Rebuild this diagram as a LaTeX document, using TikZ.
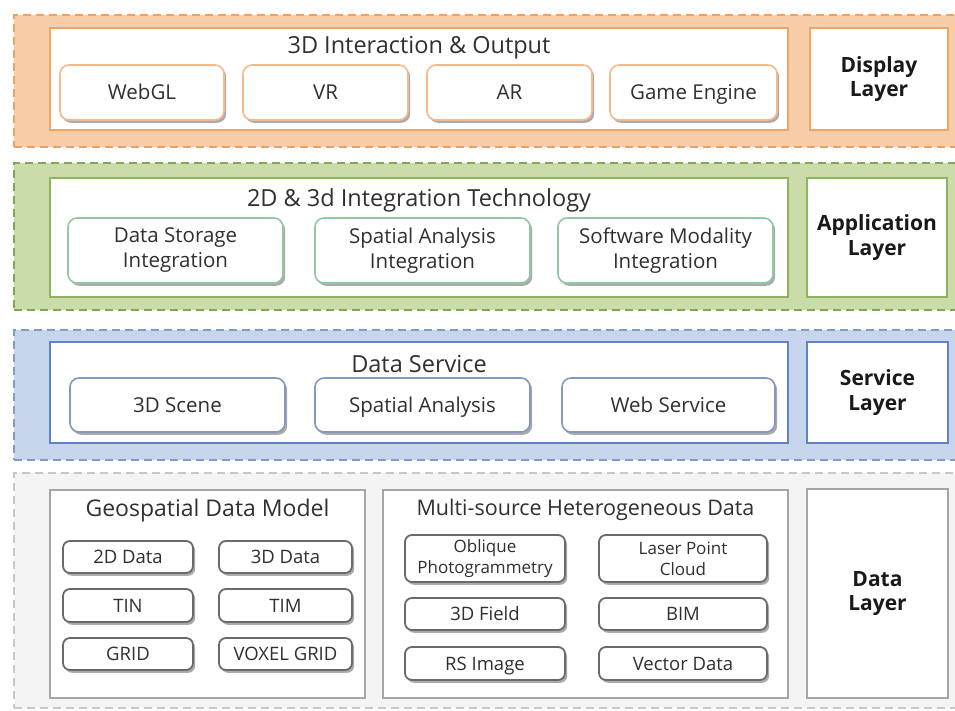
\documentclass[tikz,border=0pt]{standalone}
\usepackage{fontspec}
\setmainfont{Open Sans}
\usetikzlibrary{shadows}
\definecolor{orFill}{HTML}{F9CDA8}
\definecolor{orDash}{HTML}{F0A060}
\definecolor{orLine}{HTML}{F2A464}
\definecolor{orSub}{HTML}{F4BA8C}
\definecolor{grFill}{HTML}{CADDA9}
\definecolor{grDash}{HTML}{7FA950}
\definecolor{grLine}{HTML}{8FB35E}
\definecolor{grSub}{HTML}{90C8A2}
\definecolor{blFill}{HTML}{C7D6EC}
\definecolor{blDash}{HTML}{7F9CC8}
\definecolor{blLine}{HTML}{5F82C2}
\definecolor{blSub}{HTML}{8498BD}
\definecolor{gyFill}{HTML}{F4F4F4}
\definecolor{gyDash}{HTML}{C8C8C8}
\definecolor{gyLine}{HTML}{A6A6A6}
\definecolor{gySub}{HTML}{6A6A6A}
\definecolor{txt}{HTML}{303030}
\newcommand\mybox[7]{\node[#6, minimum width={#4-#2}, minimum height={#5-#3}] (#1) at ({(#2+#4)/2},{(#3+#5)/2}) {#7};}
\tikzset{
  layerbox/.style={draw, line width=2pt, dash pattern=on 8pt off 5pt, inner sep=0pt},
  inbox/.style={draw, fill=white, line width=2.8pt, inner sep=0pt},
  labbox/.style={draw, fill=white, line width=2.8pt, inner sep=0pt, align=center,
     font=\fontsize{21}{24.5}\selectfont\bfseries, text=black!90},
  titletext/.style={font=\fontsize{23.5}{28}\selectfont, text=txt, inner sep=0pt},
  sub/.style={draw, fill=white, rounded corners=9pt, line width=1.6pt, align=center,
     inner sep=1pt, text=txt, font=\fontsize{20.5}{25}\selectfont,
     drop shadow={shadow xshift=2.2pt, shadow yshift=-2.8pt, opacity=.5, fill=black!65}},
  oneline/.style={text height=14.7pt, text depth=0pt},
  dsub/.style={sub, rounded corners=7pt, draw=gySub, line width=1.8pt,
     text height=13.3pt, text depth=0pt, font=\fontsize{18.5}{21}\selectfont},
  dsubtwo/.style={sub, rounded corners=7pt, draw=gySub, line width=1.8pt,
     font=\fontsize{17}{21}\selectfont},
}
\begin{document}
\begin{tikzpicture}[x=1pt,y=-1pt]
\useasboundingbox (0,0) rectangle (955,711);
\clip (0,0) rectangle (955,711);
% layers
\mybox{Ldisp}{14}{15}{964}{147}{layerbox, draw=orDash, fill=orFill}{}
\mybox{Lapp}{14}{163}{964}{310}{layerbox, draw=grDash, fill=grFill}{}
\mybox{Lsrv}{14}{330}{964}{460}{layerbox, draw=blDash, fill=blFill}{}
\mybox{Ldata}{14}{473}{964}{708}{layerbox, draw=gyDash, fill=gyFill}{}
% display layer
\mybox{dIn}{50}{28}{788}{130}{inbox, draw=orLine}{}
\mybox{dLab}{810}{28}{948}{130}{labbox, draw=orLine}{Display\\Layer}
\node[titletext] (dTitle) at (419,48) {3D Interaction \& Output};
\mybox{webgl}{60}{65}{224}{120}{sub, oneline, draw=orSub}{WebGL}
\mybox{vr}{243}{65}{408}{120}{sub, oneline, draw=orSub}{VR}
\mybox{ar}{427}{65}{592}{120}{sub, oneline, draw=orSub}{AR}
\mybox{game}{610}{65}{777}{120}{sub, oneline, draw=orSub}{Game Engine}
% application layer
\mybox{aIn}{50}{178}{788}{297}{inbox, draw=grLine}{}
\mybox{aLab}{807}{178}{947}{297}{labbox, draw=grLine}{Application\\Layer}
\node[titletext] (aTitle) at (419,200) {2D \& 3d Integration Technology};
\mybox{dsi}{68}{218}{283}{283}{sub, draw=grSub}{Data Storage\\Integration}
\mybox{sai}{315}{218}{530}{283}{sub, draw=grSub}{Spatial Analysis\\Integration}
\mybox{smi}{558}{218}{773}{283}{sub, draw=grSub}{Software Modality\\Integration}
% service layer
\mybox{sIn}{50}{342}{788}{443}{inbox, draw=blLine}{}
\mybox{sLab}{807}{342}{948}{443}{labbox, draw=blLine}{Service\\Layer}
\node[titletext] (sTitle) at (419,364) {Data Service};
\mybox{scene}{70}{378}{285}{432}{sub, oneline, draw=blSub}{3D Scene}
\mybox{spa}{315}{378}{530}{432}{sub, oneline, draw=blSub}{Spatial Analysis}
\mybox{web}{562}{378}{775}{432}{sub, oneline, draw=blSub}{Web Service}
% data layer
\mybox{geo}{50}{490}{365}{698}{inbox, draw=gyLine, line width=2pt}{}
\mybox{multi}{383}{490}{788}{698}{inbox, draw=gyLine, line width=2pt}{}
\mybox{dtLab}{807}{489}{948}{698}{labbox, draw=gyLine, line width=2pt}{Data\\Layer}
\node[titletext, font=\fontsize{23}{28}\selectfont] (geoTitle) at (207.5,511) {Geospatial Data Model};
\node[titletext, font=\fontsize{21.5}{26}\selectfont] (multiTitle) at (585.5,510) {Multi-source Heterogeneous Data};
\mybox{d2}{63}{541}{193}{573}{dsub}{2D Data}
\mybox{d3}{219}{541}{352}{573}{dsub}{3D Data}
\mybox{tin}{63}{589}{193}{622}{dsub}{TIN}
\mybox{tim}{219}{589}{352}{622}{dsub}{TIM}
\mybox{grid}{63}{638}{193}{670}{dsub}{GRID}
\mybox{vox}{219}{638}{352}{670}{dsub}{VOXEL GRID}
\mybox{obl}{405}{535}{565}{582}{dsubtwo}{Oblique\\Photogrammetry}
\mybox{laser}{599}{535}{767}{582}{dsubtwo}{Laser Point\\Cloud}
\mybox{field}{405}{598}{565}{630}{dsub}{3D Field}
\mybox{bim}{599}{598}{767}{630}{dsub}{BIM}
\mybox{rs}{405}{647}{565}{680}{dsub}{RS Image}
\mybox{vec}{599}{647}{767}{680}{dsub}{Vector Data}
\end{tikzpicture}
\end{document}
